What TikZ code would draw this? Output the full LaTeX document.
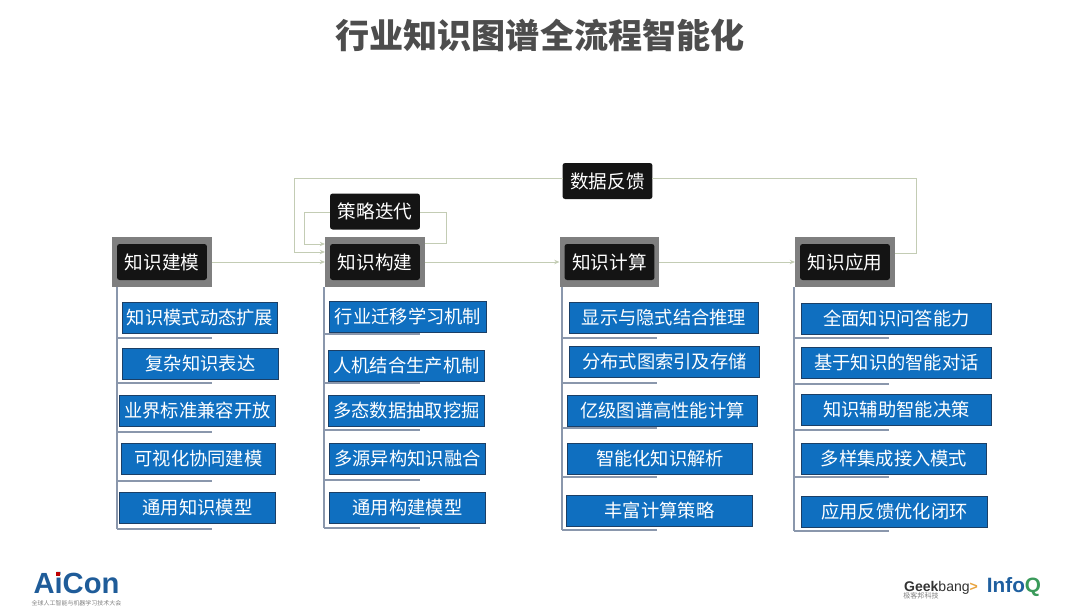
\documentclass[tikz,border=0pt]{standalone}
\usepackage{fontspec}
\setmainfont{Noto Sans CJK SC}
\newfontfamily\latinfont{Liberation Sans}
\usepackage{tikz}
\usetikzlibrary{
  arrows.meta,
  positioning,
  calc,
}
\definecolor{itemblue}{HTML}{0F6FC0}
\definecolor{itemedge}{HTML}{1B3F66}
\definecolor{headgray}{HTML}{7F7F7F}
\definecolor{titlegray}{HTML}{4D4D4D}
\definecolor{linkgreen}{HTML}{C3CCB4}
\definecolor{trunkblue}{HTML}{8A97AC}
\definecolor{aiconblue}{HTML}{1F5C99}
\definecolor{infoqblue}{HTML}{1F5F9F}
\definecolor{infoqgreen}{HTML}{3A9A5A}
\definecolor{geekorange}{HTML}{E8A33D}

\begin{document}
\begin{tikzpicture}[
  x=0.02cm, y=-0.02cm,
  every node/.style={align=center, inner sep=0pt, outer sep=0pt},
  headbox/.style={fill=headgray, minimum width=2cm, minimum height=1cm},
  headtag/.style={fill=black!92, rounded corners=1.5pt, text=white, font=\fontsize{10.6}{12}\selectfont,
                  minimum width=1.8cm, minimum height=0.72cm},
  itembox/.style={fill=itemblue, draw=itemedge, line width=0.5pt, text=white,
                  font=\fontsize{10.4}{12}\selectfont, minimum height=0.62cm},
  link/.style={draw=linkgreen, line width=0.5pt},
  linkarrow/.style={link, -{Stealth[length=3pt,width=2.5pt]}},
  trunk/.style={draw=trunkblue, line width=0.7pt},
]
\useasboundingbox (0,0) rectangle (1080,609);

\node[font=\fontsize{19.4}{22}\selectfont\bfseries, text=titlegray] (title) at (540,35) {行业知识图谱全流程智能化};

% heads
\node[headbox] (modelbox) at (162,262) {};
\node[headbox] (buildbox) at (375,262) {};
\node[headbox] (compbox) at (609.5,262) {};
\node[headbox] (appbox) at (845,262) {};
\node[headtag] (model) at (162,262) {知识建模};
\node[headtag] (build) at (375,262) {知识构建};
\node[headtag] (comp) at (609.5,262) {知识计算};
\node[headtag] (app) at (845,262) {知识应用};
\node[headtag] (iter) at (375,211.5) {策略迭代};
\node[headtag] (feed) at (607.5,181) {数据反馈};

% free ends of the loops
\coordinate (feedR) at (916,178);
\coordinate (feedD) at (916,253);
\coordinate (feedL) at (294,178);
\coordinate (feedB) at (294,252);
\coordinate (iterR) at (446,212);
\coordinate (iterD) at (446,243);
\coordinate (iterL) at (304,212);
\coordinate (iterB) at (304,244);

\draw[linkarrow] (modelbox.east) -- (buildbox.west);
\draw[linkarrow] (buildbox.east) -- (compbox.west);
\draw[linkarrow] (compbox.east) -- (appbox.west);
\draw[link] (appbox.east |- feedD) -- (feedD) -- (feedR) -- (feed.east |- feedR);
\draw[linkarrow] (feed.west |- feedL) -- (feedL) -- (feedB) -- (buildbox.west |- feedB);
\draw[link] (buildbox.east |- iterD) -- (iterD) -- (iterR) -- (iter.east |- iterR);
\draw[linkarrow] (iter.west |- iterL) -- (iterL) -- (iterB) -- (buildbox.west |- iterB);

% column 1
\node[itembox, minimum width=3.1cm] (m1) at (200,318) {知识模式动态扩展};
\node[itembox, minimum width=3.12cm] (m2) at (200.5,364) {复杂知识表达};
\node[itembox, minimum width=3.12cm] (m3) at (197.5,410.5) {业界标准兼容开放};
\node[itembox, minimum width=3.08cm] (m4) at (198.5,459) {可视化协同建模};
\node[itembox, minimum width=3.12cm] (m5) at (197.5,508) {通用知识模型};

% column 2
\node[itembox, minimum width=3.14cm] (b1) at (408,317) {行业迁移学习机制};
\node[itembox, minimum width=3.12cm] (b2) at (406.5,366) {人机结合生产机制};
\node[itembox, minimum width=3.12cm] (b3) at (406.5,410.5) {多态数据抽取挖掘};
\node[itembox, minimum width=3.12cm] (b4) at (407.5,459) {多源异构知识融合};
\node[itembox, minimum width=3.12cm] (b5) at (407.5,508) {通用构建模型};

% column 3
\node[itembox, minimum width=3.78cm] (c1) at (664,318) {显示与隐式结合推理};
\node[itembox, minimum width=3.8cm] (c2) at (664.5,362) {分布式图索引及存储};
\node[itembox, minimum width=3.8cm] (c3) at (662.5,410.5) {亿级图谱高性能计算};
\node[itembox, minimum width=3.7cm] (c4) at (660,459) {智能化知识解析};
\node[itembox, minimum width=3.72cm] (c5) at (659.5,510.5) {丰富计算策略};

% column 4
\node[itembox, minimum width=3.8cm] (a1) at (896.5,318.5) {全面知识问答能力};
\node[itembox, minimum width=3.8cm] (a2) at (896.5,362.5) {基于知识的智能对话};
\node[itembox, minimum width=3.8cm] (a3) at (896.5,409.5) {知识辅助智能决策};
\node[itembox, minimum width=3.7cm] (a4) at (894,459) {多样集成接入模式};
\node[itembox, minimum width=3.72cm] (a5) at (894.5,512) {应用反馈优化闭环};

% trunks and branches
\foreach \tx/\bx/\ya/\yb/\yc/\yd/\ye/\yf in {
  117/212/287/338/383/432/481/529,
  324/420/287/334/383/430/480/528,
  562/657/287/338/383/428/477/530,
  794/889/287/338/384/430/477/531} {
  \coordinate (trunktop) at (\tx,\ya);
  \coordinate (trunkend) at (\tx,\yf);
  \draw[trunk] (trunktop) -- (trunkend);
  \foreach \by in {\yb,\yc,\yd,\ye,\yf} {
    \coordinate (branchA) at (\tx,\by);
    \coordinate (branchB) at (\bx,\by);
    \draw[trunk] (branchA) -- (branchB);
  }
}

% logos
\node[font=\latinfont\bfseries\fontsize{16.6}{18}\selectfont, text=aiconblue, text depth=0pt, text height=8pt] (aicon) at (76.5,586) {AiCon};
\fill[red!75!black] (56,572) rectangle (60.2,576.4);
\node[font=\fontsize{3.4}{4}\selectfont, text=gray, text depth=0pt, text height=2.5pt] (aiconsub) at (76.5,603) {全球人工智能与机器学习技术大会};
\node[font=\latinfont\fontsize{8}{10}\selectfont, text=black!80, text depth=0pt, text height=6pt] (geek) at (941,586.5) {\textbf{Geek}bang\textcolor{geekorange}{\textbf{>}}};
\node[font=\fontsize{4}{4}\selectfont, text=gray, text depth=0pt, text height=3pt] (geeksub) at (921,596) {极客邦科技};
\node[font=\latinfont\bfseries\fontsize{11.8}{12}\selectfont, text=infoqblue] (infoq) at (1014,587) {Info\textcolor{infoqgreen}{Q}};
\end{tikzpicture}
\end{document}
